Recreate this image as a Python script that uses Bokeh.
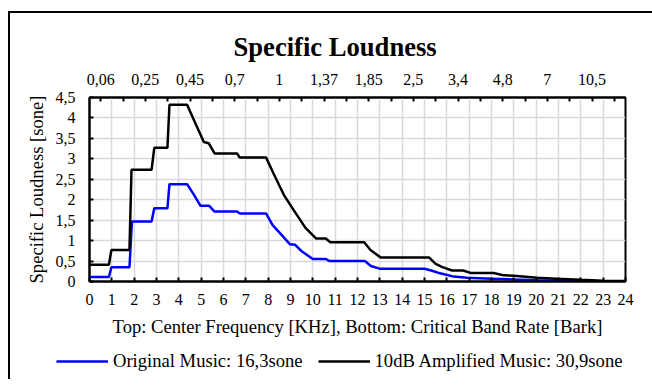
from bokeh.plotting import figure
from bokeh.models import LinearAxis, FixedTicker, Legend, LegendItem, Range1d
from bokeh.layouts import column
from bokeh.embed import file_html
from bokeh.resources import INLINE

# ---- data ----
bark_black = [0, 0.87, 0.98, 1.79, 1.88, 2.78, 2.9, 3.49, 3.58, 4.37, 4.75, 5.12, 5.34, 5.61,
              6.61, 6.73, 7.91, 8.25, 8.7, 9.15, 9.67, 10.15, 10.58, 10.78, 12.3, 12.58, 13.03,
              15.2, 15.5, 15.8, 16.24, 16.73, 17.06, 18.1, 18.55, 19.0, 20.05, 20.9, 22.0, 23.0, 24.0]
amp_loud = [0.41, 0.41, 0.77, 0.77, 2.73, 2.73, 3.27, 3.27, 4.32, 4.32, 3.86, 3.41, 3.38, 3.13,
            3.13, 3.03, 3.03, 2.63, 2.12, 1.74, 1.31, 1.05, 1.05, 0.96, 0.96, 0.77, 0.59,
            0.59, 0.43, 0.35, 0.27, 0.27, 0.21, 0.21, 0.15, 0.14, 0.09, 0.07, 0.04, 0.02, 0.01]

bark_blue = [0, 0.87, 0.98, 1.79, 1.9, 2.78, 2.9, 3.49, 3.58, 4.37, 4.7, 4.97, 5.36, 5.6,
             6.61, 6.73, 7.91, 8.2, 8.6, 8.98, 9.2, 9.5, 10.0, 10.58, 10.75, 12.33, 12.6, 13.03,
             15.0, 15.3, 15.7, 16.3, 16.9, 18.0, 19.0, 20.0, 21.0, 22.0, 24.0]
orig_loud = [0.11, 0.11, 0.35, 0.35, 1.47, 1.47, 1.79, 1.79, 2.38, 2.38, 2.1, 1.85, 1.85, 1.71,
             1.71, 1.66, 1.66, 1.38, 1.14, 0.91, 0.9, 0.74, 0.55, 0.55, 0.5, 0.5, 0.38, 0.31,
             0.31, 0.27, 0.2, 0.12, 0.09, 0.07, 0.05, 0.03, 0.02, 0.01, 0.005]

bottom_ticks = list(range(0, 25))
top_tick_pos = [0.5 + i for i in range(24)]
top_labels = ["0,06", "0,25", "0,45", "0,7", "1", "1,37", "1,85", "2,5", "3,4", "4,8", "7", "10,5"]
y_ticks = [0, 0.5, 1, 1.5, 2, 2.5, 3, 3.5, 4, 4.5]
y_labels = ["0", "0,5", "1", "1,5", "2", "2,5", "3", "3,5", "4", "4,5"]

series_names = ["Original Music: 16,3sone", "10dB Amplified Music: 30,9sone"]
series_colors = ["#0000ff", "#000000"]

FONT = "Liberation Serif"

p = figure(frame_width=536, frame_height=184, output_backend="svg", toolbar_location=None,
           x_range=Range1d(0, 24), y_range=Range1d(0, 4.5),
           min_border_left=79, min_border_right=17, min_border_top=84, min_border_bottom=58)
p.frame_align = False

p.title.text = "Specific Loudness"
p.title.text_font = FONT
p.title.text_font_size = "26.6px"
p.title.text_font_style = "bold"
p.title.align = "left"
p.title.offset = 144
p.title.standoff = 17
p.title.text_color = "#000"

p.outline_line_color = "#000"
p.outline_line_width = 2
p.background_fill_color = "#ffffff"

# grids
p.xgrid.ticker = FixedTicker(ticks=bottom_ticks)
p.ygrid.ticker = FixedTicker(ticks=y_ticks)
p.xgrid.grid_line_color = "#d9d9d9"
p.ygrid.grid_line_color = "#d9d9d9"
p.xgrid.grid_line_width = 1.5
p.ygrid.grid_line_width = 1.5


def style_axis(ax, size="16px"):
    ax.axis_line_color = "#000"
    ax.axis_line_width = 2
    ax.major_tick_in = 4
    ax.major_tick_out = 0
    ax.major_tick_line_width = 2
    ax.major_tick_line_color = "#000"
    ax.minor_tick_line_color = None
    ax.major_label_text_font = FONT
    ax.major_label_text_font_size = size
    ax.major_label_text_color = "#000"
    ax.axis_label_text_font = FONT
    ax.axis_label_text_font_size = "18.6px"
    ax.axis_label_text_font_style = "normal"
    ax.axis_label_text_color = "#000"


xb = p.xaxis[0]
xb.ticker = FixedTicker(ticks=bottom_ticks)
xb.axis_label = "Top: Center Frequency [KHz], Bottom: Critical Band Rate [Bark]"
style_axis(xb)
xb.major_label_standoff = 12
xb.axis_label_standoff = 8

overrides = {}
for i, t in enumerate(top_tick_pos):
    overrides[t] = top_labels[i // 2] if i % 2 == 0 else ""
xt = LinearAxis(ticker=FixedTicker(ticks=top_tick_pos), major_label_overrides=overrides)
style_axis(xt)
xt.major_label_standoff = 13
p.add_layout(xt, "above")

yl = p.yaxis[0]
yl.ticker = FixedTicker(ticks=y_ticks)
yl.major_label_overrides = {t: l for t, l in zip(y_ticks, y_labels)}
yl.axis_label = "Specific Loudness [sone]"
style_axis(yl)
yl.major_label_standoff = 14
yl.axis_label_standoff = 6

p.line(bark_blue, orig_loud, line_color=series_colors[0], line_width=2.5)
p.line(bark_black, amp_loud, line_color=series_colors[1], line_width=2.5)

# legend strip below the chart (legend-only proxy renderers with no visible points)
p2 = figure(width=632, height=40, output_backend="svg", toolbar_location=None,
            x_range=Range1d(0, 1), y_range=Range1d(0, 1), min_border=0,
            x_axis_location=None, y_axis_location=None)
p2.frame_align = False
p2.outline_line_color = None
p2.background_fill_color = "#ffffff"
p2.border_fill_color = "#ffffff"
p2.xgrid.visible = False
p2.ygrid.visible = False
p2.grid.visible = False
nan = float("nan")
items = []
for name, col in zip(series_names, series_colors):
    r = p2.line([nan], [nan], line_color=col, line_width=2.5)
    items.append(LegendItem(label=name, renderers=[r]))
legend = Legend(items=items, orientation="horizontal", location=(46, 7),
                label_text_font=FONT, label_text_font_size="18.6px", label_text_color="#000",
                glyph_width=52, glyph_height=20, label_height=20, label_standoff=5, spacing=15,
                border_line_color=None, background_fill_alpha=0, margin=0, padding=0)
p2.add_layout(legend)

layout = column(p, p2, spacing=0,
                styles={"margin-top": "11px", "margin-left": "8px", "padding-right": "10px",
                        "border-top": "2px solid #000", "border-left": "2px solid #000"})

open("out.html", "w").write(file_html(layout, INLINE))
